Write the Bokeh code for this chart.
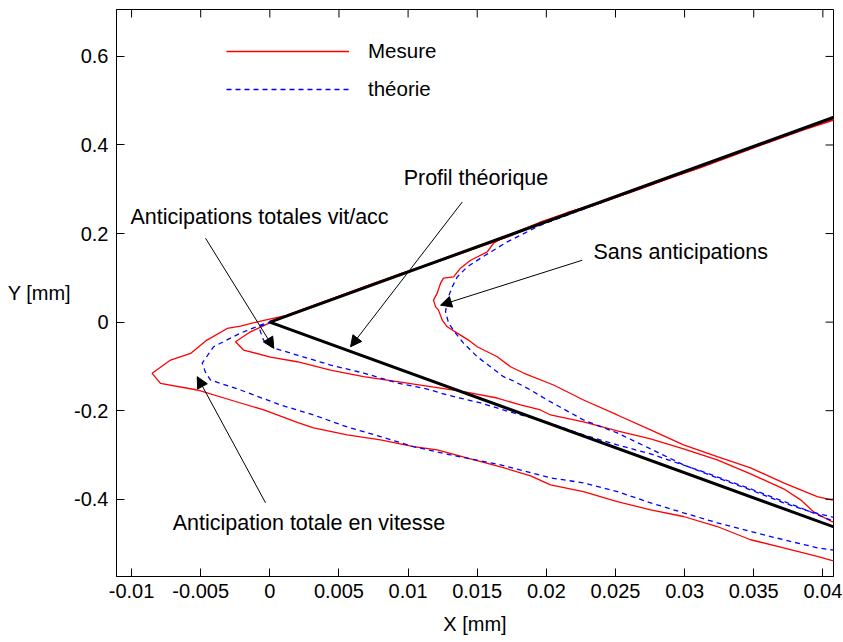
import math
from bokeh.plotting import figure
from bokeh.models import (Range1d, FixedTicker, Label, Arrow,
                          NormalHead, Legend, LegendItem)
from bokeh.embed import file_html
from bokeh.resources import INLINE

FONT = "Liberation Sans"

# ---------------- data ----------------
x_ticks = [-0.01, -0.005, 0.0, 0.005, 0.01, 0.015, 0.02, 0.025, 0.03, 0.035, 0.04]
x_tick_labels = ["-0.01", "-0.005", "0", "0.005", "0.01", "0.015", "0.02",
                 "0.025", "0.03", "0.035", "0.04"]
y_ticks = [-0.4, -0.2, 0.0, 0.2, 0.4, 0.6]
y_tick_labels = ["-0.4", "-0.2", "0", "0.2", "0.4", "0.6"]

X_MIN, X_MAX = -0.01109, 0.04077
Y_MIN, Y_MAX = -0.5745, 0.7060

# theoretical profile (V)
profil_x = [0.0412, 0.0, 0.0412]
profil_y = [0.4672, 0.0, -0.4672]

# "Sans anticipations"
mes_sans_x = [0.0412, 0.0385, 0.0360, 0.0335, 0.0310, 0.0285, 0.0260, 0.0235, 0.0215, 0.0195,
              0.0180, 0.0170, 0.01618, 0.01573, 0.01452, 0.01379, 0.01329, 0.01256, 0.01235, 0.01211,
              0.01184, 0.01199, 0.01220, 0.01247, 0.01283, 0.01356, 0.01437, 0.01500, 0.01645, 0.01741,
              0.01835, 0.02052, 0.02269, 0.02513, 0.02754, 0.02992, 0.03236, 0.03477, 0.03716, 0.03959,
              0.04063, 0.0412]
mes_sans_y = [0.4620, 0.4340, 0.4060, 0.3770, 0.3480, 0.3200, 0.2920, 0.2670, 0.2470, 0.2250,
              0.2060, 0.1930, 0.1781, 0.1585, 0.1398, 0.1218, 0.1021, 0.0992, 0.0879, 0.0654,
              0.0496, 0.0345, 0.0271, 0.0045, -0.0106, -0.0248, -0.0406, -0.0557, -0.0782, -0.1008,
              -0.1150, -0.1420, -0.1759, -0.2097, -0.2435, -0.2773, -0.3037, -0.3292, -0.3630, -0.3939,
              -0.4014, -0.4030]
theo_sans_x = [0.0412, 0.0350, 0.0300, 0.0250, 0.0215, 0.0195, 0.01813, 0.01717, 0.01618, 0.01524,
               0.01428, 0.01356, 0.01319, 0.01283, 0.01271, 0.01293, 0.01343, 0.01401, 0.01500, 0.01596,
               0.01690, 0.01763, 0.01886, 0.02007, 0.02269, 0.02513, 0.02754, 0.02992, 0.03236, 0.03477,
               0.03716, 0.03911, 0.04063, 0.0412]
theo_sans_y = [0.4650, 0.3955, 0.3385, 0.2820, 0.2415, 0.2180, 0.1962, 0.1811, 0.1623, 0.1443,
               0.1247, 0.1021, 0.0796, 0.0496, 0.0232, -0.0023, -0.0248, -0.0474, -0.0782, -0.1008,
               -0.1233, -0.1330, -0.1533, -0.1759, -0.2210, -0.2503, -0.2864, -0.3224, -0.3517, -0.3788,
               -0.4081, -0.4284, -0.4397, -0.4430]

# "Anticipations totales vit/acc"
mes_va_x = [0.0412, 0.0385, 0.0360, 0.0335, 0.0310, 0.0290, 0.0265, 0.0240, 0.0215, 0.0195,
            0.0175, 0.0155, 0.0135, 0.0115, 0.0095, 0.0075, 0.0055, 0.0035, 0.0015, -0.00009,
            -0.00140, -0.00248, -0.00190, 0.00005, 0.00198, 0.00439, 0.00678, 0.00922, 0.01162, 0.01401,
            0.01645, 0.01813, 0.01958, 0.02030, 0.02269, 0.02513, 0.02754, 0.02992, 0.03236, 0.03477,
            0.03716, 0.03839, 0.03933, 0.04063, 0.0412]
mes_va_y = [0.4600, 0.4330, 0.4050, 0.3760, 0.3470, 0.3270, 0.2980, 0.2700, 0.2470, 0.2240,
            0.1960, 0.1730, 0.1510, 0.1290, 0.1100, 0.0870, 0.0645, 0.0415, 0.0185, -0.0029,
            -0.0219, -0.0444, -0.0631, -0.0789, -0.0895, -0.1082, -0.1233, -0.1346, -0.1459, -0.1572,
            -0.1714, -0.1871, -0.1984, -0.2097, -0.2255, -0.2458, -0.2638, -0.2864, -0.3112, -0.3427,
            -0.3765, -0.4014, -0.4284, -0.4503, -0.4530]
theo_va_x = [0.0412, 0.0300, 0.0200, 0.0100, 0.0030, 0.0005, -0.00080, -0.00046, 0.00027, 0.00198,
             0.00439, 0.00678, 0.00922, 0.01139, 0.01283, 0.01524, 0.01763, 0.01958, 0.02269, 0.02513,
             0.02754, 0.03116, 0.03477, 0.03839, 0.04063, 0.0412]
theo_va_y = [0.4670, 0.3402, 0.2268, 0.1134, 0.0340, 0.0057, -0.0106, -0.0406, -0.0586, -0.0744,
             -0.0970, -0.1150, -0.1375, -0.1511, -0.1646, -0.1826, -0.2052, -0.2210, -0.2548, -0.2773,
             -0.2976, -0.3360, -0.3766, -0.4194, -0.4480, -0.4530]

# "Anticipation totale en vitesse"
mes_v_x = [0.0412, 0.0385, 0.0360, 0.0335, 0.0310, 0.0285, 0.0260, 0.0235, 0.0210, 0.0190,
           0.0170, 0.0150, 0.0130, 0.0110, 0.0090, 0.0070, 0.0050, 0.0030, 0.0012, -0.00091,
           -0.00212, -0.00308, -0.00455, -0.00573, -0.00718, -0.00851, -0.00791, -0.00525, -0.00284, -0.00043,
           0.00198, 0.00316, 0.00560, 0.00801, 0.01039, 0.01211, 0.01452, 0.01669, 0.01886, 0.02030,
           0.02269, 0.02513, 0.02754, 0.02992, 0.03236, 0.03477, 0.03716, 0.03959, 0.04063, 0.0412]
mes_v_y = [0.4640, 0.4350, 0.4070, 0.3780, 0.3490, 0.3210, 0.2930, 0.2640, 0.2390, 0.2170,
           0.1910, 0.1690, 0.1480, 0.1260, 0.1040, 0.0820, 0.0590, 0.0360, 0.0150, 0.0007,
           -0.0090, -0.0143, -0.0406, -0.0707, -0.0857, -0.1157, -0.1382, -0.1533, -0.1759, -0.1984,
           -0.2262, -0.2390, -0.2548, -0.2661, -0.2812, -0.2886, -0.3089, -0.3269, -0.3472, -0.3675,
           -0.3826, -0.4052, -0.4239, -0.4390, -0.4616, -0.4915, -0.5096, -0.5292, -0.5382, -0.5400]
theo_v_x = [0.0412, 0.0300, 0.0200, 0.0100, 0.0030, 0.0005, -0.00067, -0.00212, -0.00407, -0.00489,
            -0.00466, -0.00429, -0.00212, 0.00077, 0.00316, 0.00560, 0.00801, 0.01039, 0.01307, 0.01669,
            0.02030, 0.02269, 0.02513, 0.02754, 0.02992, 0.03236, 0.03477, 0.03716, 0.03959, 0.04063,
            0.0412]
theo_v_y = [0.4670, 0.3402, 0.2268, 0.1134, 0.0340, 0.0057, -0.0068, -0.0248, -0.0557, -0.0924,
            -0.1130, -0.1308, -0.1533, -0.1871, -0.2097, -0.2368, -0.2586, -0.2812, -0.2999, -0.3224,
            -0.3517, -0.3630, -0.3826, -0.4081, -0.4307, -0.4532, -0.4728, -0.4915, -0.5096, -0.5141,
            -0.5150]

# annotations: (text, text x, text y, arrow start x, start y, arrow end x, end y)
annotations = [
    ("Profil théorique", 0.00968, 0.3247, 0.01392, 0.2713, 0.00584, -0.0557),
    ("Sans anticipations", 0.02341, 0.1578, 0.02260, 0.1398, 0.01235, 0.0383),
    ("Anticipations totales vit/acc", -0.01008, 0.2368, -0.00465, 0.1894, 0.00029, -0.0593),
    ("Anticipation totale en vitesse", -0.00702, -0.4532, -0.00031, -0.4081, -0.00525, -0.1233),
]

# ---------------- figure ----------------
p = figure(width=842, height=641,
           x_range=Range1d(X_MIN, X_MAX), y_range=Range1d(Y_MIN, Y_MAX),
           output_backend="svg", toolbar_location=None,
           min_border_left=116, min_border_right=9, min_border_top=9, min_border_bottom=65)
p.grid.visible = False
p.outline_line_color = "black"
p.outline_line_width = 1
p.background_fill_color = "white"
p.border_fill_color = "white"

RED = "#ff0000"
BLUE = "#0000ff"
DASH = "5 4"

r_red = p.line(mes_sans_x, mes_sans_y, line_color=RED, line_width=1.3)
p.line(mes_va_x, mes_va_y, line_color=RED, line_width=1.3)
p.line(mes_v_x, mes_v_y, line_color=RED, line_width=1.3)
r_blue = p.line(theo_sans_x, theo_sans_y, line_color=BLUE, line_width=1.3, line_dash=DASH)
p.line(theo_va_x, theo_va_y, line_color=BLUE, line_width=1.3, line_dash=DASH)
p.line(theo_v_x, theo_v_y, line_color=BLUE, line_width=1.3, line_dash=DASH)
p.line(profil_x, profil_y, line_color="black", line_width=3)

# mirrored inner ticks on the top and right edges of the box
p.ray(x=x_ticks, y=[Y_MAX] * len(x_ticks), length=8, length_units="screen",
      angle=-math.pi / 2, line_color="black", line_width=1)
p.ray(x=[X_MAX] * len(y_ticks), y=y_ticks, length=8, length_units="screen",
      angle=math.pi, line_color="black", line_width=1)

# axes
xa = p.xaxis[0]
ya = p.yaxis[0]
xa.ticker = FixedTicker(ticks=x_ticks)
xa.major_label_overrides = dict(zip(x_ticks, x_tick_labels))
ya.ticker = FixedTicker(ticks=y_ticks)
ya.major_label_overrides = dict(zip(y_ticks, y_tick_labels))
for ax in (xa, ya):
    ax.major_tick_in = 8
    ax.major_tick_out = 0
    ax.minor_tick_line_color = None
    ax.axis_line_color = "black"
    ax.major_tick_line_color = "black"
    ax.major_label_text_font = FONT
    ax.major_label_text_font_size = "20px"
    ax.major_label_text_color = "black"
    ax.axis_label_text_font = FONT
    ax.axis_label_text_font_size = "20px"
    ax.axis_label_text_font_style = "normal"
    ax.axis_label_text_color = "black"
xa.major_label_standoff = 7
ya.major_label_standoff = 8
xa.axis_label = "X [mm]"
xa.axis_label_standoff = 12
ya.axis_label = "Y [mm]"
ya.axis_label_orientation = "horizontal"
ya.axis_label_standoff = 0

# annotations with arrows
for txt, tx, ty, xs, ys, xe, ye in annotations:
    p.add_layout(Label(x=tx, y=ty, text=txt, text_font=FONT, text_font_size="21.5px",
                       text_align="left", text_baseline="middle", text_color="black"))
    p.add_layout(Arrow(end=NormalHead(size=11, fill_color="black", line_color="black", line_width=1),
                       x_start=xs, y_start=ys, x_end=xe, y_end=ye,
                       line_color="black", line_width=1))

# legend
legend = Legend(items=[LegendItem(label="Mesure", renderers=[r_red]),
                       LegendItem(label="théorie", renderers=[r_blue])],
                location=(110, 475), orientation="vertical",
                border_line_color=None, background_fill_alpha=0,
                glyph_width=123, glyph_height=24, label_height=24, label_standoff=19,
                spacing=14, padding=0, margin=0,
                label_text_font=FONT, label_text_font_size="20.5px", label_text_color="black")
p.add_layout(legend)

open("out.html", "w").write(file_html(p, INLINE))
